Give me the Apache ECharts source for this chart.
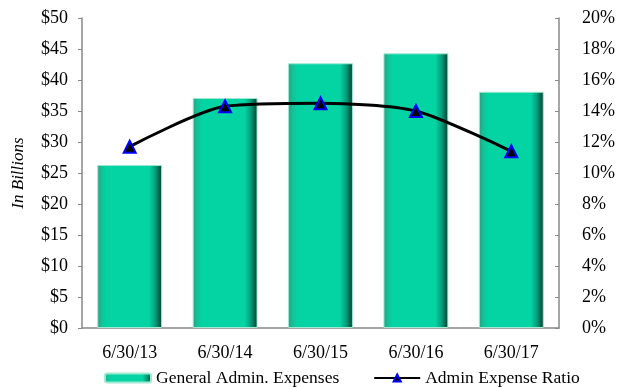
<!DOCTYPE html>
<html><head><meta charset="utf-8">
<script src="https://cdn.jsdelivr.net/npm/echarts@6/dist/echarts.min.js"></script>
<style>html,body{margin:0;padding:0;background:#fff}#c{width:618px;height:387px}</style>
</head><body><div id="c"></div>
<script>
const categories = ['6/30/13','6/30/14','6/30/15','6/30/16','6/30/17'];
const expenses = [26.3, 37.1, 42.7, 44.3, 38.1];
const ratio = [11.7, 14.3, 14.5, 14.0, 11.4];
const leftTicks = {min:0, max:50, interval:5};
const rightTicks = {min:0, max:20, interval:2};

const font = 'Liberation Serif, Times New Roman, serif';
const chart = echarts.init(document.getElementById('c'));
chart.setOption({
  animation:false,
  grid:{left:82, right:59, top:18, bottom:59},
  legend:{
    top:369, left:104, itemGap:34, itemWidth:46, itemHeight:9, padding:0,
    textStyle:{fontFamily:font, fontSize:17.5, color:'#000'},
    data:['General Admin. Expenses','Admin Expense Ratio']
  },
  xAxis:{
    type:'category', data:categories,
    axisLine:{lineStyle:{color:'#888', width:1.5}},
    axisTick:{length:5, lineStyle:{color:'#888'}},
    axisLabel:{fontFamily:font, fontSize:18, color:'#000', margin:16}
  },
  yAxis:[{
    type:'value', min:leftTicks.min, max:leftTicks.max, interval:leftTicks.interval,
    name:'In Billions', nameLocation:'middle', nameGap:55, nameRotate:90,
    nameTextStyle:{fontFamily:font, fontSize:17, fontStyle:'italic', color:'#000'},
    axisLine:{show:true, lineStyle:{color:'#888', width:1.5}},
    axisTick:{show:true, length:4, lineStyle:{color:'#888'}},
    splitLine:{show:false},
    axisLabel:{fontFamily:font, fontSize:18, color:'#000', margin:14, formatter:v=>'$'+v}
  },{
    type:'value', min:rightTicks.min, max:rightTicks.max, interval:rightTicks.interval,
    position:'right',
    axisLine:{show:true, lineStyle:{color:'#888', width:1.5}},
    axisTick:{show:true, inside:true, length:4, lineStyle:{color:'#888'}},
    splitLine:{show:false},
    axisLabel:{fontFamily:font, fontSize:18, color:'#000', margin:23, formatter:v=>v+'%'}
  }],
  series:[{
    name:'General Admin. Expenses', type:'bar', data:expenses, barWidth:'68%',
    itemStyle:{
      color:new echarts.graphic.LinearGradient(0,0,1,0,[
        {offset:0, color:'#2a9c80'},
        {offset:0.07, color:'#12c296'},
        {offset:0.15, color:'#04d4a4'},
        {offset:0.8, color:'#04d4a4'},
        {offset:0.9, color:'#039a77'},
        {offset:1, color:'#033a2b'}
      ]),
      borderColor:'#9fe8d2', borderWidth:1
    }
  },{
    name:'Admin Expense Ratio', type:'line', yAxisIndex:1, data:ratio, smooth:0.25,
    lineStyle:{color:'#000', width:3},
    symbol:'triangle', symbolSize:12,
    itemStyle:{color:'#000', borderColor:'#0000ff', borderWidth:2}
  }]
});
</script></body></html>
